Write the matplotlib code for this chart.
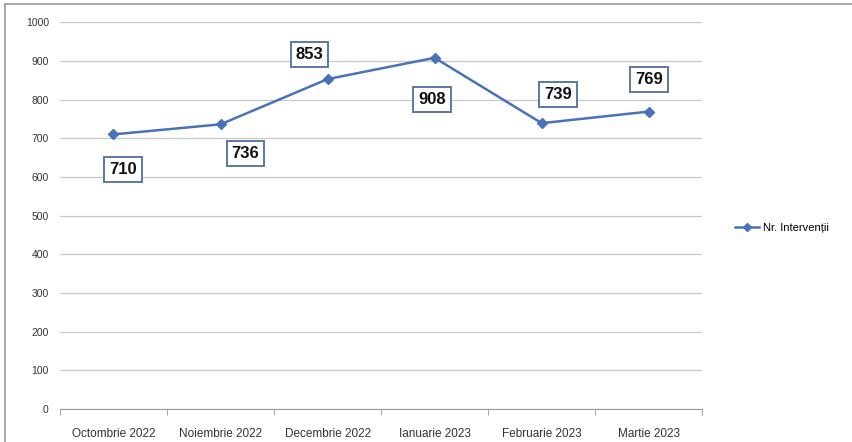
import numpy as np
import matplotlib.pyplot as plt
from matplotlib.lines import Line2D

categories = ["Octombrie 2022", "Noiembrie 2022", "Decembrie 2022",
              "Ianuarie 2023", "Februarie 2023", "Martie 2023"]
values = [710, 736, 853, 908, 739, 769]
series_name = "Nr. Interven\u021bii"

# label offsets in points (dx, dy)
label_offsets = [(7, -25), (18, -21), (-13, 18), (-2, -30), (12, 21), (0, 23)]

plt.rcParams['font.family'] = ['Liberation Sans', 'DejaVu Sans']

fig = plt.figure(figsize=(8.53, 4.42), dpi=100)
ax = fig.add_axes([0.0703, 0.0747, 0.753, 0.875])

x = np.arange(len(categories))
line_color = "#4a72b8"
ax.plot(x, values, color=line_color, lw=1.8, marker="D", ms=5, zorder=3)

for xi, v, (dx, dy) in zip(x, values, label_offsets):
    ax.annotate(str(v), (xi, v), xytext=(dx, dy), textcoords="offset points",
                ha="center", va="center", fontsize=12, fontweight="bold",
                color="#111111",
                bbox=dict(boxstyle="square,pad=0.3", fc="white", ec="#5a78a8", lw=1.4))

ax.set_xlim(-0.5, len(categories) - 0.5)
ax.set_ylim(0, 1000)
ax.set_yticks(np.arange(0, 1001, 100))
ax.set_xticks(x)
ax.set_xticklabels(categories, fontsize=8.5, color="#333333")
ax.set_xticks(np.arange(-0.5, len(categories), 1), minor=True)
ax.tick_params(axis="x", which="major", length=0, pad=14)
ax.tick_params(axis="x", which="minor", length=4, color="#999999")
ax.tick_params(axis="y", length=0, labelsize=7.5, labelcolor="#333333", pad=8)
ax.grid(axis="y", color="#c8c8c8", lw=0.9)
ax.set_axisbelow(True)
for s in ["top", "right", "left"]:
    ax.spines[s].set_visible(False)
ax.spines["bottom"].set_color("#999999")

handle = Line2D([], [], color=line_color, lw=1.8, marker="D", ms=4)
fig.legend([handle], [series_name], loc="center left", bbox_to_anchor=(0.85, 0.485),
           frameon=False, fontsize=8, handlelength=2.2, handletextpad=0.3)

# outer frame lines (left and top)
fig.add_artist(Line2D([0.006, 0.006], [0, 0.99], color="#999999", lw=1.2))
fig.add_artist(Line2D([0.006, 1], [0.99, 0.99], color="#999999", lw=1.2))

fig.savefig("out.png", dpi=100)
